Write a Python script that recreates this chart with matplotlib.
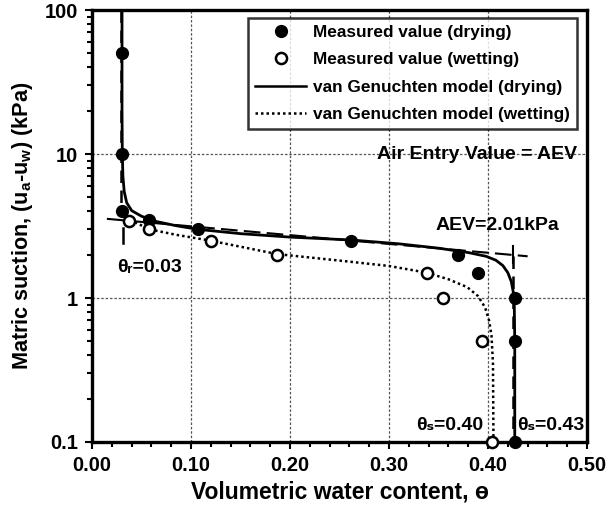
import matplotlib
matplotlib.use("Agg")
import matplotlib.pyplot as plt
from matplotlib.lines import Line2D
from matplotlib.ticker import MultipleLocator, FixedLocator, LogLocator, NullFormatter, FixedFormatter

plt.rcParams['font.family'] = ['Liberation Sans', 'DejaVu Sans']
plt.rcParams['font.weight'] = 'bold'
plt.rcParams['mathtext.fontset'] = 'custom'
plt.rcParams['mathtext.bf'] = 'Liberation Sans:bold'
plt.rcParams['mathtext.rm'] = 'Liberation Sans:bold'
plt.rcParams['mathtext.default'] = 'bf'

# measured points
dry_theta = [0.030, 0.030, 0.030, 0.058, 0.107, 0.262, 0.370, 0.390, 0.427, 0.427, 0.427]
dry_psi = [50, 10, 4.0, 3.5, 3.0, 2.5, 2.0, 1.5, 1.0, 0.5, 0.1]
wet_theta = [0.037, 0.058, 0.120, 0.187, 0.338, 0.355, 0.394, 0.404]
wet_psi = [3.45, 3.0, 2.5, 2.0, 1.5, 1.0, 0.5, 0.1]

# fitted van Genuchten curves
vg_dry_theta = [0.0303, 0.0303, 0.0306, 0.0312, 0.0325, 0.035, 0.040, 0.050, 0.065,
                0.085, 0.107, 0.150, 0.200, 0.262, 0.310, 0.350, 0.380, 0.398,
                0.408, 0.415, 0.420, 0.4235, 0.4255, 0.4265, 0.427, 0.427]
vg_dry_psi = [100, 20, 10, 7.0, 5.5, 4.6, 4.05, 3.7, 3.4, 3.18, 3.0, 2.8, 2.65, 2.53,
              2.38, 2.22, 2.07, 1.95, 1.83, 1.68, 1.5, 1.3, 1.1, 0.9, 0.5, 0.1]
vg_wet_theta = [0.034, 0.040, 0.058, 0.085, 0.120, 0.187, 0.250, 0.300, 0.338, 0.360,
                0.379, 0.390, 0.397, 0.401, 0.4035, 0.405, 0.4055]
vg_wet_psi = [3.7, 3.45, 3.0, 2.75, 2.5, 2.02, 1.82, 1.67, 1.5, 1.35, 1.19, 1.03, 0.86,
              0.7, 0.55, 0.35, 0.1]

# graphical AEV construction
tangent_theta = [0.015, 0.44]
tangent_psi = [3.55, 1.95]
res_line_theta = [0.029, 0.029]
res_line_psi = [100, 4.0]
sat_line_theta = [0.425, 0.425]
sat_line_psi = [1.95, 0.1]
theta_r = 0.03
theta_s_wet = 0.40
theta_s_dry = 0.43
aev = 2.01

fig = plt.figure(figsize=(6.07, 5.08), dpi=100)
ax = fig.add_axes([0.1516, 0.130, 0.8155, 0.850])

ax.plot(res_line_theta, res_line_psi, color='black', lw=1.8, ls=(0, (5, 3)), zorder=3)
ax.plot(sat_line_theta, sat_line_psi, color='black', lw=1.8, ls=(0, (5, 3)), zorder=3)
ax.plot(tangent_theta, tangent_psi, color='black', lw=1.5, ls=(0, (8, 3)), zorder=3)
ax.plot([theta_r + 0.001, theta_r + 0.001], [3.05, 2.4], color='black', lw=1.8, zorder=3)
ax.plot([0.425, 0.425], [2.3, 1.75], color='black', lw=1.5, zorder=3)

ax.plot(vg_dry_theta, vg_dry_psi, color='black', lw=2.0, zorder=4)
ax.plot(vg_wet_theta, vg_wet_psi, color='black', lw=1.8, ls=(0, (1, 1.2)), zorder=4)

ax.plot(dry_theta, dry_psi, 'o', ms=8.5, mfc='black', mec='black', clip_on=False, zorder=5)
ax.plot(wet_theta, wet_psi, 'o', ms=8, mfc='white', mec='black', mew=1.8, clip_on=False, zorder=5)

ax.set_yscale('log')
ax.set_xlim(0, 0.5)
ax.set_ylim(0.1, 100)

ax.xaxis.set_major_locator(MultipleLocator(0.1))
ax.xaxis.set_minor_locator(MultipleLocator(0.02))
ax.xaxis.set_major_formatter(plt.FormatStrFormatter('%.2f'))
ax.yaxis.set_major_locator(FixedLocator([0.1, 1, 10, 100]))
ax.yaxis.set_major_formatter(FixedFormatter(['0.1', '1', '10', '100']))
ax.yaxis.set_minor_locator(LogLocator(base=10, subs=range(2, 10)))
ax.yaxis.set_minor_formatter(NullFormatter())

ax.tick_params(axis='both', which='major', direction='out', length=5, width=1.5,
               labelsize=14.5, pad=5)
ax.tick_params(axis='both', which='minor', direction='out', length=3.5, width=1.5)
for lab in ax.get_xticklabels() + ax.get_yticklabels():
    lab.set_fontweight('bold')
for s in ax.spines.values():
    s.set_linewidth(2.4)

ax.grid(True, which='major', color='#555555', ls=(0, (2, 1.5)), lw=0.9)

ax.set_xlabel('Volumetric water content, ɵ', fontsize=16.5, fontweight='bold', labelpad=4)
ax.set_ylabel(r'Matric suction, (u$_{a}$-u$_{w}$) (kPa)', fontsize=15.6,
              fontweight='bold', labelpad=7)

ax.text(0.490, 10, 'Air Entry Value = AEV', fontsize=14, fontweight='bold',
        ha='right', va='center', zorder=6)
ax.text(0.409, 3.21, 'AEV=%.2fkPa' % aev, fontsize=14, fontweight='bold',
        ha='center', va='center', zorder=6)
ax.text(0.025, 1.62, 'θᵣ=%.2f' % theta_r, fontsize=14, fontweight='bold',
        ha='left', va='center', zorder=6)
ax.text(theta_s_wet - 0.005, 0.131, 'θₛ=%.2f' % theta_s_wet, fontsize=14,
        fontweight='bold', ha='right', va='center', zorder=6)
ax.text(theta_s_dry - 0.001, 0.131, 'θₛ=%.2f' % theta_s_dry, fontsize=14,
        fontweight='bold', ha='left', va='center', zorder=6)

handles = [
    Line2D([], [], ls='none', marker='o', ms=8.5, mfc='black', mec='black'),
    Line2D([], [], ls='none', marker='o', ms=8, mfc='white', mec='black', mew=1.8),
    Line2D([], [], color='black', lw=1.8),
    Line2D([], [], color='black', lw=1.8, ls=(0, (1, 1.2))),
]
labels = ['Measured value (drying)', 'Measured value (wetting)',
          'van Genuchten model (drying)', 'van Genuchten model (wetting)']
leg = ax.legend(handles, labels, loc='upper right', bbox_to_anchor=(0.980, 0.981),
                fontsize=12.4, frameon=True, fancybox=False, edgecolor='black',
                borderpad=0.4, labelspacing=0.7, handlelength=3.0,
                handletextpad=0.4, borderaxespad=0)
leg.get_frame().set_linewidth(1.8)
for t in leg.get_texts():
    t.set_fontweight('bold')
leg.set_zorder(7)

fig.savefig('out.png', dpi=100)
